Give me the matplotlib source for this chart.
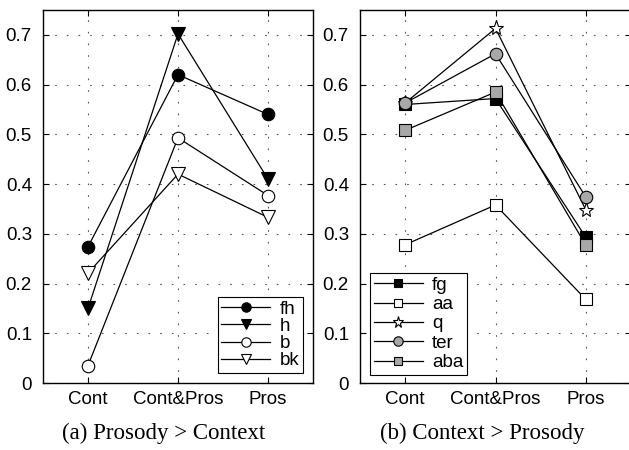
import matplotlib
matplotlib.use('Agg')
import matplotlib.pyplot as plt
import numpy as np

# ---- data ----
categories = ['Cont', 'Cont&Pros', 'Pros']

left_labels = ['fh', 'h', 'b', 'bk']
fh = [0.274, 0.620, 0.540]
h = [0.150, 0.702, 0.410]
b = [0.035, 0.493, 0.377]
bk = [0.221, 0.420, 0.333]

right_labels = ['fg', 'aa', 'q', 'ter', 'aba']
fg = [0.560, 0.572, 0.293]
aa = [0.278, 0.358, 0.168]
q = [0.563, 0.713, 0.348]
ter = [0.563, 0.662, 0.374]
aba = [0.508, 0.585, 0.277]

captions = ['(a) Prosody > Context', '(b) Context > Prosody']

GRAY = '#a8a8a8'
left_styles = [
    dict(marker='o', mfc='black', ms=9),
    dict(marker='v', mfc='black', ms=10),
    dict(marker='o', mfc='white', ms=9),
    dict(marker='v', mfc='white', ms=10),
]
right_styles = [
    dict(marker='s', mfc='black', ms=8),
    dict(marker='s', mfc='white', ms=8),
    dict(marker='*', mfc='white', ms=11),
    dict(marker='o', mfc=GRAY, ms=9),
    dict(marker='s', mfc=GRAY, ms=8),
]

plt.rcParams['font.family'] = ['Liberation Sans', 'DejaVu Sans']

fig = plt.figure(figsize=(6.29, 4.5), dpi=100)
W, H = 629, 450
ax1 = fig.add_axes([43 / W, 1 - 383 / H, 270 / W, 373 / H])
ax2 = fig.add_axes([360 / W, 1 - 383 / H, 271 / W, 373 / H])


def draw_panel(ax, series, labels, styles, legend_loc, legend_anchor, spacing):
    x = np.arange(1, len(categories) + 1)
    for vals, lab, st in zip(series, labels, styles):
        ax.plot(x, vals, color='black', lw=0.9, mec='black', mew=0.8,
                label=lab, zorder=3, **st)
    ax.set_xlim(0.5, 3.5)
    ax.set_ylim(0, 0.75)
    ax.set_xticks(x)
    ax.set_xticklabels(categories, fontsize=13.5)
    ax.set_yticks(np.arange(0, 0.71, 0.1))
    ax.set_yticklabels(['0'] + [f'{v:.1f}' for v in np.arange(0.1, 0.71, 0.1)],
                       fontsize=13.5)
    ax.tick_params(direction='in', top=True, right=True, length=4, width=0.8)
    ax.tick_params(axis='y', pad=8)
    ax.tick_params(axis='x', pad=6)
    ax.grid(True, linestyle=(0, (1.5, 9)), color='#555555', lw=0.8)
    for s in ax.spines.values():
        s.set_linewidth(1.0)
    leg = ax.legend(loc=legend_loc, bbox_to_anchor=legend_anchor,
                    fontsize=13.5, frameon=True, fancybox=False,
                    edgecolor='black', framealpha=1, borderpad=0.2,
                    labelspacing=spacing, handlelength=2.6, handletextpad=0.5,
                    markerscale=0.75, borderaxespad=0)
    leg.get_frame().set_linewidth(0.8)


draw_panel(ax1, [fh, h, b, bk], left_labels, left_styles,
           'lower right', ((303 - 43) / 270, (383 - 373) / 373), 0.0)
draw_panel(ax2, [fg, aa, q, ter, aba], right_labels, right_styles,
           'lower left', ((370 - 360) / 271, (383 - 375) / 373), 0.12)

fig.text(164 / W, 1 - 433 / H, captions[0], ha='center', va='center',
         fontsize=16.5, family='Liberation Serif')
fig.text(482 / W, 1 - 433 / H, captions[1], ha='center', va='center',
         fontsize=16.5, family='Liberation Serif')

fig.savefig('out.png', dpi=100)
